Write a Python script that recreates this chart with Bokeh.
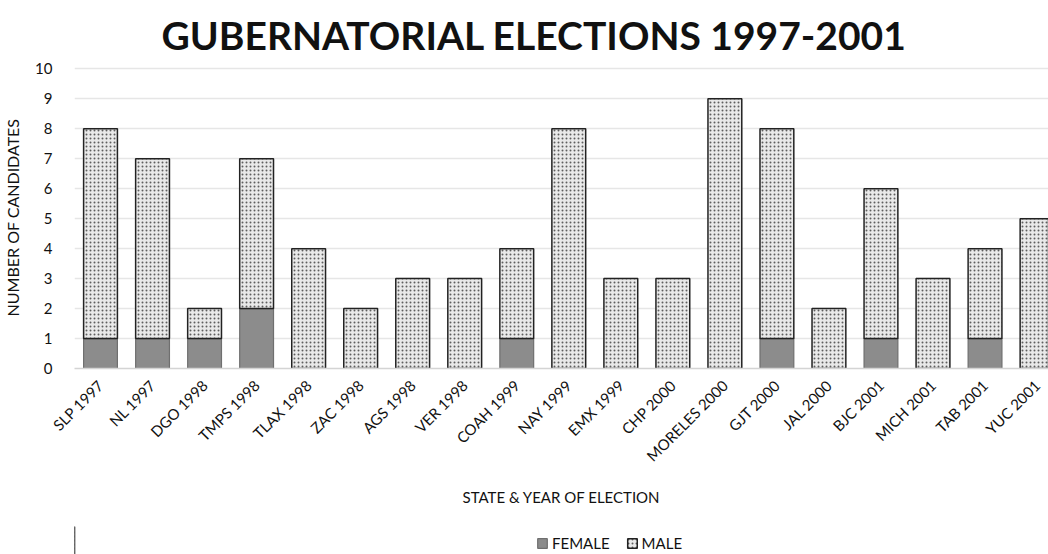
import math
from bokeh.plotting import figure
from bokeh.layouts import column
from bokeh.models import (Range1d, FixedTicker, Legend, LegendItem, Title,
                          ColumnDataSource)
from bokeh.embed import file_html
from bokeh.resources import INLINE

# Elections, in chronological order
elections = ["SLP 1997", "NL 1997", "DGO 1998", "TMPS 1998", "TLAX 1998",
             "ZAC 1998", "AGS 1998", "VER 1998", "COAH 1999", "NAY 1999",
             "EMX 1999", "CHP 2000", "MORELES 2000", "GJT 2000", "JAL 2000",
             "BJC 2001", "MICH 2001", "TAB 2001", "YUC 2001"]
female = [1, 1, 1, 2, 0, 0, 0, 0, 1, 0, 0, 0, 0, 1, 0, 1, 0, 1, 0]
male = [7, 6, 1, 5, 4, 2, 3, 3, 3, 8, 3, 3, 9, 7, 2, 5, 3, 3, 5]
y_ticks = list(range(0, 11))

FONT = "Lato"

FEMALE_STYLE = dict(fill_color="#8c8c8c", line_color="#6f6f6f", line_width=1.2)
MALE_STYLE = dict(fill_color="#e9e9e9", line_color="#222222", line_width=1.5,
                  hatch_pattern=".", hatch_color="#5e5e5e", hatch_scale=4,
                  hatch_weight=1.3)

xs = list(range(len(elections)))
totals = [f + m for f, m in zip(female, male)]

fem_src = ColumnDataSource(dict(
    x=[x for x, f in zip(xs, female) if f > 0],
    top=[f for f in female if f > 0],
))
male_src = ColumnDataSource(dict(x=xs, bottom=female, top=totals))

p = figure(width=1048, height=526, output_backend="svg", toolbar_location=None,
           x_range=Range1d(-0.5, 18.22), y_range=Range1d(0, 10.08),
           min_border_left=70, min_border_right=0, min_border_top=66,
           min_border_bottom=158)
p.outline_line_color = None

title = Title(text="GUBERNATORIAL ELECTIONS 1997-2001", align="left",
              text_font=FONT, text_font_size="39px", text_font_style="bold",
              text_color="#111111", offset=87, standoff=18)
p.add_layout(title, "above")

p.vbar(x="x", bottom=0, top="top", width=0.65, source=fem_src, **FEMALE_STYLE)
p.vbar(x="x", bottom="bottom", top="top", width=0.65, source=male_src,
       **MALE_STYLE)

# axes
p.xaxis.ticker = FixedTicker(ticks=xs)
p.xaxis.major_label_overrides = {i: lab for i, lab in enumerate(elections)}
p.xaxis.major_label_orientation = math.pi / 4
p.xaxis.major_label_text_font = FONT
p.xaxis.major_label_text_font_size = "15px"
p.xaxis.major_label_text_color = "#111111"
p.xaxis.major_tick_line_color = None
p.xaxis.minor_tick_line_color = None
p.xaxis.axis_line_color = "#d4d4d4"
p.xaxis.axis_line_width = 1.5
p.xaxis.major_label_standoff = 8
p.xaxis.axis_label = "STATE & YEAR OF ELECTION"
p.xaxis.axis_label_text_font = FONT
p.xaxis.axis_label_text_font_size = "15px"
p.xaxis.axis_label_text_font_style = "normal"
p.xaxis.axis_label_text_color = "#111111"
p.xaxis.axis_label_standoff = 14

p.yaxis.ticker = FixedTicker(ticks=y_ticks)
p.yaxis.major_label_text_font = FONT
p.yaxis.major_label_text_font_size = "15px"
p.yaxis.major_label_text_color = "#111111"
p.yaxis.major_tick_line_color = None
p.yaxis.minor_tick_line_color = None
p.yaxis.axis_line_color = None
p.yaxis.major_label_standoff = 16
p.yaxis.axis_label = "NUMBER OF CANDIDATES"
p.yaxis.axis_label_text_font = FONT
p.yaxis.axis_label_text_font_size = "16px"
p.yaxis.axis_label_text_font_style = "normal"
p.yaxis.axis_label_text_color = "#111111"
p.yaxis.axis_label_standoff = 10

p.xgrid.grid_line_color = None
p.ygrid.ticker = FixedTicker(ticks=y_ticks[1:])
p.ygrid.grid_line_color = "#e6e6e6"
p.ygrid.grid_line_width = 1.5

# legend strip below the chart
key = figure(width=1048, height=28, output_backend="svg", toolbar_location=None,
             x_range=Range1d(0, 1), y_range=Range1d(0, 1),
             x_axis_location=None, y_axis_location=None,
             min_border_left=0, min_border_right=0, min_border_top=0,
             min_border_bottom=0)
key.grid.visible = False
key.outline_line_color = None
# swatch renderers sit outside the visible range; only their legend keys show
offscreen = ColumnDataSource(dict(x=[-10], top=[1]))
fem_key = key.vbar(x="x", top="top", width=0.5, source=offscreen,
                   **FEMALE_STYLE)
male_key = key.vbar(x="x", top="top", width=0.5, source=offscreen,
                    **MALE_STYLE)

legend = Legend(items=[LegendItem(label="FEMALE", renderers=[fem_key]),
                       LegendItem(label="MALE", renderers=[male_key])],
                orientation="horizontal", location=(462, 2),
                label_text_font=FONT, label_text_font_size="15px",
                label_text_color="#111111", glyph_width=12, glyph_height=12,
                label_height=16, label_standoff=4, spacing=16, padding=0,
                margin=0, border_line_color=None, background_fill_alpha=0)
key.add_layout(legend)

page = column(p, key, spacing=0)
open("out.html", "w").write(file_html(page, INLINE))
